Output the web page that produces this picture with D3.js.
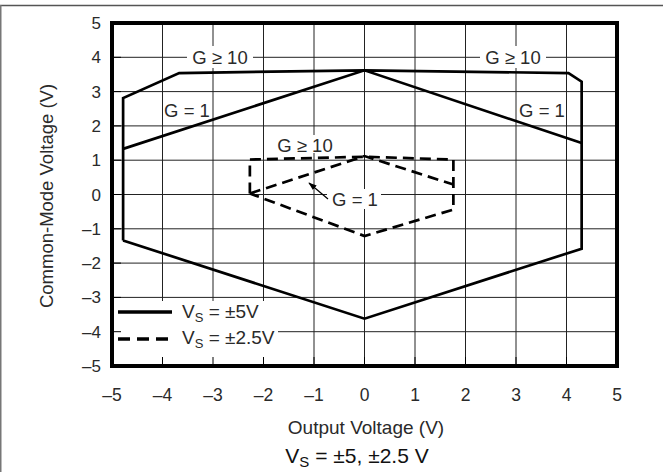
<!DOCTYPE html>
<html>
<head>
<meta charset="utf-8">
<script src="https://cdn.jsdelivr.net/npm/d3@7"></script>
<style>
  html, body { margin: 0; padding: 0; background: #fff; }
  svg { display: block; font-family: Arial, "Liberation Sans", Helvetica, sans-serif; }
</style>
</head>
<body>
<svg id="chart" width="663" height="472"></svg>
<script>
// ---- data ----
const xTicks = [-5, -4, -3, -2, -1, 0, 1, 2, 3, 4, 5];
const yTicks = [-5, -4, -3, -2, -1, 0, 1, 2, 3, 4, 5];

// Vs = ±5V, G >= 10 outer boundary (closed polygon)
const vs5G10 = [
  [-4.78, -1.34], [-4.78, 2.81], [-3.67, 3.54], [0, 3.62],
  [4.04, 3.54], [4.30, 3.29], [4.30, -1.58], [0, -3.62], [-4.78, -1.34]
];
// Vs = ±5V, G = 1 upper boundary
const vs5G1 = [[-4.78, 1.33], [0, 3.62], [4.30, 1.50]];

// Vs = ±2.5V, G >= 10 boundary (closed polygon)
const vs25G10 = [
  [-2.27, 0.03], [-2.27, 1.02], [0, 1.10], [1.76, 1.02],
  [1.76, -0.44], [0, -1.21], [-2.27, 0.03]
];
// Vs = ±2.5V, G = 1 upper boundary
const vs25G1 = [[-2.27, 0.03], [0, 1.12], [1.76, 0.29]];

const legendLabels = ["±5V", "±2.5V"];

// ---- layout ----
const svg = d3.select("#chart");
const x = d3.scaleLinear().domain([-5, 5]).range([112, 617]);
const y = d3.scaleLinear().domain([-5, 5]).range([366, 23]);
const fmt = v => (v < 0 ? "\u2013" + Math.abs(v) : String(v));
const txtCol = "#2a2a2a";

// outer figure frame (top and left)
svg.append("line").attr("x1", 0).attr("x2", 663).attr("y1", 5.5).attr("y2", 5.5)
  .attr("stroke", "#555").attr("stroke-width", 1.5);
svg.append("line").attr("x1", 0.75).attr("x2", 0.75).attr("y1", 5).attr("y2", 472)
  .attr("stroke", "#777").attr("stroke-width", 1.5);

// grid
const grid = svg.append("g");
grid.selectAll("line.vx").data(xTicks.slice(1, -1)).join("line")
  .attr("x1", d => x(d)).attr("x2", d => x(d))
  .attr("y1", y(5)).attr("y2", y(-5))
  .attr("stroke", "#222").attr("stroke-width", 1);
grid.selectAll("line.hy").data(yTicks.slice(1, -1)).join("line")
  .attr("y1", d => y(d)).attr("y2", d => y(d))
  .attr("x1", x(-5)).attr("x2", x(5))
  .attr("stroke", "#222").attr("stroke-width", 1);

const line = d3.line().x(d => x(d[0])).y(d => y(d[1]));

function labelBox(tx, ty, w, h) {
  svg.append("rect").attr("x", tx - w / 2).attr("y", ty - h / 2)
    .attr("width", w).attr("height", h).attr("fill", "#fff");
}

// label backgrounds (mask grid)
labelBox(220, 57, 66, 22);
labelBox(513, 57, 66, 22);
labelBox(354, 199, 54, 20);
labelBox(305, 144, 62, 18);

// curves
svg.append("path").attr("d", line(vs5G10)).attr("fill", "none")
  .attr("stroke", "#000").attr("stroke-width", 2.7).attr("stroke-linejoin", "miter");
svg.append("path").attr("d", line(vs5G1)).attr("fill", "none")
  .attr("stroke", "#000").attr("stroke-width", 2.7);
svg.append("path").attr("d", line(vs25G10)).attr("fill", "none")
  .attr("stroke", "#000").attr("stroke-width", 2.7).attr("stroke-dasharray", "11,6");
svg.append("path").attr("d", line(vs25G1)).attr("fill", "none")
  .attr("stroke", "#000").attr("stroke-width", 2.7).attr("stroke-dasharray", "11,6");

// legend box
svg.append("rect").attr("x", x(-5)).attr("y", 301).attr("width", 166).attr("height", y(-5) - 301)
  .attr("fill", "#fff");

// annotation texts
const ann = svg.append("g").attr("font-size", 18.5).attr("fill", txtCol).attr("text-anchor", "middle");
ann.append("text").attr("x", 220).attr("y", 64).text("G \u2265 10");
ann.append("text").attr("x", 513).attr("y", 64).text("G \u2265 10");
ann.append("text").attr("x", 187).attr("y", 117).text("G = 1");
ann.append("text").attr("x", 542).attr("y", 117).text("G = 1");
ann.append("text").attr("x", 305).attr("y", 152).text("G \u2265 10");
ann.append("text").attr("x", 355).attr("y", 206).text("G = 1");

// arrow for dashed G = 1
svg.append("defs").append("marker").attr("id", "ah")
  .attr("viewBox", "0 0 10 10").attr("refX", 9).attr("refY", 5)
  .attr("markerWidth", 7).attr("markerHeight", 7).attr("orient", "auto")
  .append("path").attr("d", "M0,1.5 L10,5 L0,8.5 Z").attr("fill", "#000");
svg.append("line").attr("x1", 328).attr("y1", 199).attr("x2", 309).attr("y2", 183)
  .attr("stroke", "#000").attr("stroke-width", 1.2).attr("marker-end", "url(#ah)");

// legend
const lg = svg.append("g");
lg.append("line").attr("x1", 118).attr("x2", 172).attr("y1", 312).attr("y2", 312)
  .attr("stroke", "#000").attr("stroke-width", 3.5);
lg.append("line").attr("x1", 118).attr("x2", 172).attr("y1", 339).attr("y2", 339)
  .attr("stroke", "#000").attr("stroke-width", 3.5).attr("stroke-dasharray", "12,7");
legendLabels.forEach((lab, i) => {
  const t = lg.append("text").attr("x", 182).attr("y", 318 + i * 26)
    .attr("font-size", 19).attr("fill", txtCol);
  t.append("tspan").text("V");
  t.append("tspan").attr("font-size", 13).attr("dy", 4).text("S");
  t.append("tspan").attr("dy", -4).text(" = " + lab);
});

// inward axis ticks
const ticks = svg.append("g").attr("stroke", "#000").attr("stroke-width", 1);
ticks.selectAll("line.tb").data(xTicks.slice(1, -1)).join("line")
  .attr("x1", d => x(d)).attr("x2", d => x(d)).attr("y1", y(-5)).attr("y2", y(-5) - 9);
ticks.selectAll("line.tl").data(yTicks.slice(1, -1)).join("line")
  .attr("y1", d => y(d)).attr("y2", d => y(d)).attr("x1", x(-5)).attr("x2", x(-5) + 9);

// plot frame
svg.append("rect").attr("x", x(-5)).attr("y", y(5))
  .attr("width", x(5) - x(-5)).attr("height", y(-5) - y(5))
  .attr("fill", "none").attr("stroke", "#000").attr("stroke-width", 4);

// axis tick labels
const xl = svg.append("g").attr("font-size", 17.5).attr("fill", txtCol).attr("text-anchor", "middle");
xl.selectAll("text").data(xTicks).join("text")
  .attr("x", d => x(d)).attr("y", 401).text(fmt);
const yl = svg.append("g").attr("font-size", 17).attr("fill", txtCol).attr("text-anchor", "end");
yl.selectAll("text").data(yTicks).join("text")
  .attr("x", 101).attr("y", d => y(d) + 6).text(fmt);

// axis titles
svg.append("text").attr("x", 366).attr("y", 434).attr("text-anchor", "middle")
  .attr("font-size", 19).attr("fill", txtCol).text("Output Voltage (V)");
svg.append("text").attr("transform", "translate(53,196) rotate(-90)").attr("text-anchor", "middle")
  .attr("font-size", 18.5).attr("fill", txtCol).text("Common-Mode Voltage (V)");

// caption
const cap = svg.append("text").attr("x", 357).attr("y", 463).attr("text-anchor", "middle")
  .attr("font-size", 21).attr("fill", "#111");
cap.append("tspan").text("V");
cap.append("tspan").attr("font-size", 15).attr("dy", 4).text("S");
cap.append("tspan").attr("dy", -4).text(" = \u00b15, \u00b12.5 V");
</script>
</body>
</html>
